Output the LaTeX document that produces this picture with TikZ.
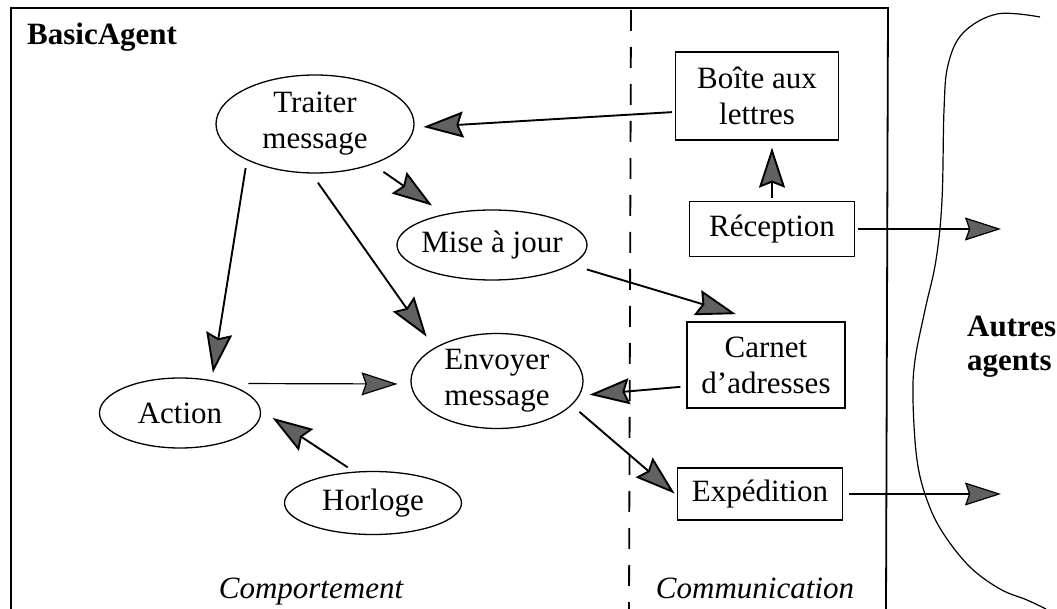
\documentclass[tikz,border=0pt]{standalone}
\usepackage{fontspec}
\setmainfont{Liberation Serif}
\usetikzlibrary{arrows.meta,shapes.geometric}
\begin{document}
\begin{tikzpicture}[x=1pt,y=-1pt,
  every node/.style={font=\fontsize{31}{36}\selectfont, inner sep=0pt, align=center},
  proc/.style={ellipse, draw, line width=1.3pt},
  store/.style={rectangle, draw, line width=1.3pt},
  heading/.style={font=\bfseries\fontsize{31}{34}\selectfont},
  zone/.style={font=\itshape\fontsize{31}{36}\selectfont, anchor=base},
  link/.style={line width=1.9pt, -{Stealth[length=40pt,width=26pt,inset=5pt,fill=black!62]}},
  thinlink/.style={line width=1.2pt, -{Stealth[length=36pt,width=23pt,inset=4pt,fill=black!62]}}]
\useasboundingbox (0,0) rectangle (1057,609);

% agent frame and the split between behaviour and communication
\draw[line width=1.8pt] (11,609) -- (11,8) -- (888,8) -- (886,609);
\draw[line width=1.8pt, dash pattern=on 21pt off 16pt] (631,10) -- (629,609);

% the other agents, enclosed by a large parenthesis
\draw[line width=1.2pt] plot[smooth, tension=0.6] coordinates {(1040,17) (997,14) (963,33) (948,65) (944,110) (942,200) (936,260) (925,310) (915,360) (913,400) (917,460) (927,500) (943,533) (970,567) (1000,589) (1027,600) (1046,609)};

% titles
\node[heading, anchor=base west] (title) at (27,45) {BasicAgent};
\node[zone] (comp) at (311,598) {Comportement};
\node[zone] (comm) at (755,598) {Communication};
\node[heading, anchor=north west, align=left] (autres) at (967,316) {Autres\\agents};

% behaviour processes
\node[proc, minimum width=198pt, minimum height=98pt] (trait) at (315,124) {Traiter\\message};
\node[proc, minimum width=190pt, minimum height=70pt, inner xsep=-8pt] (mise) at (492,245) {Mise à jour};
\node[proc, minimum width=172pt, minimum height=95pt] (env) at (497,381) {Envoyer\\message};
\node[proc, minimum width=161pt, minimum height=70pt] (action) at (180,413) {Action};
\node[proc, minimum width=177pt, minimum height=63pt] (horl) at (373,503) {Horloge};

% communication components
\node[store, minimum width=163pt, minimum height=88pt] (boite) at (757,96) {Boîte aux\\lettres};
\node[store, minimum width=165pt, minimum height=55pt] (recep) at (772,229) {Réception};
\node[store, minimum width=158pt, minimum height=86pt] (carnet) at (766,365) {Carnet\\d’adresses};
\node[store, minimum width=165pt, minimum height=52pt] (exped) at (760,494) {Expédition};

\coordinate (outA) at (1001,229);
\coordinate (outB) at (1001,494);

% message flow
\draw[link, shorten <=3pt, shorten >=9pt] (boite.191) -- (trait.-2);
\draw[link, shorten <=3pt, shorten >=7pt] (recep.north) -- (recep.north |- boite.south);
\draw[thinlink, shorten <=3pt] (recep.east) -- (outA);
\draw[thinlink, shorten <=6pt] (exped.east) -- (outB);
\draw[link, shorten <=13pt, shorten >=15pt] (trait.-35) -- (mise.147);
\draw[link, shorten <=8pt, shorten >=7.5pt] (trait.208) -- (action.46);
\draw[link, shorten <=11pt, shorten >=13.5pt] (trait.-94) -- (env.152);
\draw[thinlink, shorten <=23pt, shorten >=13pt] (action.33) -- (env.182);
\draw[link, shorten <=7.7pt, shorten >=14pt] (horl.121) -- (action.2);
\draw[link, shorten <=16pt, shorten >=25pt] (mise.-14) -- (carnet.98);
\draw[link, shorten <=6pt, shorten >=10pt] (carnet.195) -- (env.-10);
\draw[link, shorten <=10pt, shorten >=3pt] (env.-18) -- (exped.181);
\end{tikzpicture}
\end{document}
